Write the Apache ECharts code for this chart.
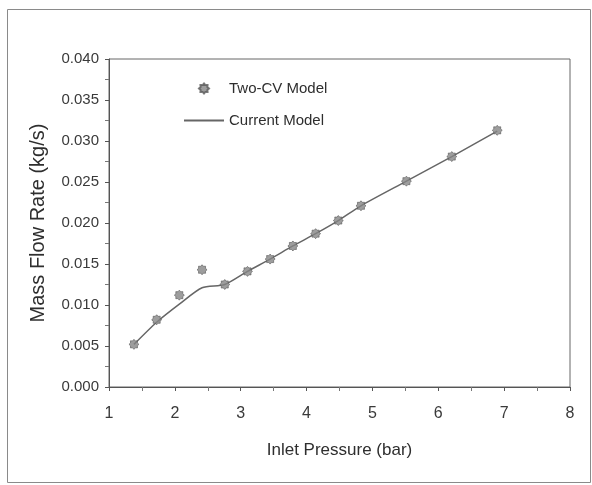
<!DOCTYPE html>
<html>
<head>
<meta charset="utf-8">
<script src="https://cdn.jsdelivr.net/npm/echarts@6/dist/echarts.min.js"></script>
<style>
  html, body { margin: 0; padding: 0; background: #fff; }
  #chart { width: 592px; height: 485px; }
</style>
</head>
<body>
<div id="chart"></div>
<script>
// Inlet pressure (bar) at each operating point
const pressure = [1.379, 1.724, 2.068, 2.413, 2.758, 3.103, 3.447, 3.792, 4.137, 4.482, 4.826, 5.516, 6.205, 6.895];
// Mass flow rate (kg/s), Two-CV model
const twoCvModel = [0.0052, 0.0082, 0.0112, 0.0143, 0.0125, 0.0141, 0.0156, 0.0172, 0.0187, 0.0203, 0.0221, 0.0251, 0.0281, 0.0313];
// Mass flow rate (kg/s), current model
const currentModel = [0.0052, 0.0079, 0.0101, 0.0121, 0.0125, 0.0141, 0.0156, 0.0172, 0.0187, 0.0203, 0.0221, 0.0251, 0.0281, 0.0312];

const seriesNames = ['Two-CV Model', 'Current Model'];
const xTitle = 'Inlet Pressure (bar)';
const yTitle = 'Mass Flow Rate (kg/s)';

// rounded eight-pointed asterisk marker
function starPath(points, inner) {
  let d = '';
  for (let i = 0; i < points * 2; i++) {
    const r = i % 2 === 0 ? 10 : 10 * inner;
    const a = Math.PI * i / points - Math.PI / 2;
    const x = (10 + r * Math.cos(a)).toFixed(2);
    const y = (10 + r * Math.sin(a)).toFixed(2);
    d += (i === 0 ? 'M' : 'L') + x + ' ' + y + ' ';
  }
  return 'path://' + d + 'Z';
}
const marker = starPath(8, 0.74);

const font = '"Liberation Sans", Arial, sans-serif';
const textColor = '#2e2e2e';
const chart = echarts.init(document.getElementById('chart'));

chart.setOption({
  backgroundColor: '#ffffff',
  animation: false,
  textStyle: { fontFamily: font },
  graphic: [{
    type: 'rect',
    shape: { x: 7.5, y: 9.5, width: 583, height: 473 },
    style: { fill: 'none', stroke: '#8a8a8a', lineWidth: 1 },
    silent: true
  }],
  grid: {
    left: 109, top: 59, width: 461, height: 328,
    show: true, borderColor: '#666', borderWidth: 1, backgroundColor: 'transparent'
  },
  legend: {
    orient: 'vertical',
    left: 178, top: 76,
    itemWidth: 40, itemHeight: 10, itemGap: 17,
    textStyle: { fontFamily: font, fontSize: 15, color: textColor },
    data: [
      { name: seriesNames[0], icon: marker },
      { name: seriesNames[1], itemStyle: { opacity: 0 } }
    ]
  },
  xAxis: {
    type: 'value', min: 1, max: 8, interval: 1,
    name: xTitle, nameLocation: 'middle', nameGap: 55,
    nameTextStyle: { fontFamily: font, fontSize: 17, color: textColor },
    axisLine: { onZero: false, lineStyle: { color: '#555', width: 1 } },
    axisTick: { show: true, length: 4, lineStyle: { color: '#555' } },
    minorTick: { show: true, splitNumber: 2, length: 4, lineStyle: { color: '#777' } },
    axisLabel: { fontFamily: font, fontSize: 16, color: '#3a3a3a', margin: 19 },
    splitLine: { show: false }
  },
  yAxis: {
    type: 'value', min: 0, max: 0.04, interval: 0.005,
    name: yTitle, nameLocation: 'middle', nameGap: 61, nameRotate: 90,
    nameTextStyle: { fontFamily: font, fontSize: 20, color: textColor },
    axisLine: { onZero: false, lineStyle: { color: '#555', width: 1 } },
    axisTick: { show: true, length: 4, lineStyle: { color: '#555' } },
    minorTick: { show: true, splitNumber: 2, length: 4, lineStyle: { color: '#777' } },
    axisLabel: {
      fontFamily: font, fontSize: 15, color: '#3a3a3a', margin: 10,
      padding: [0, 0, 8, 0],
      formatter: v => v.toFixed(3)
    },
    splitLine: { show: false }
  },
  series: [
    {
      name: seriesNames[1],
      type: 'line',
      data: pressure.map((p, i) => [p, currentModel[i]]),
      symbol: 'none',
      smooth: 0.25,
      lineStyle: { color: '#666', width: 1.5 },
      itemStyle: { color: '#666' },
      z: 2
    },
    {
      name: seriesNames[0],
      type: 'scatter',
      data: pressure.map((p, i) => [p, twoCvModel[i]]),
      symbol: marker,
      symbolSize: 10,
      itemStyle: { color: '#858585', borderColor: '#5a5a5a', borderWidth: 0.8 },
      z: 3
    }
  ]
});
</script>
</body>
</html>
